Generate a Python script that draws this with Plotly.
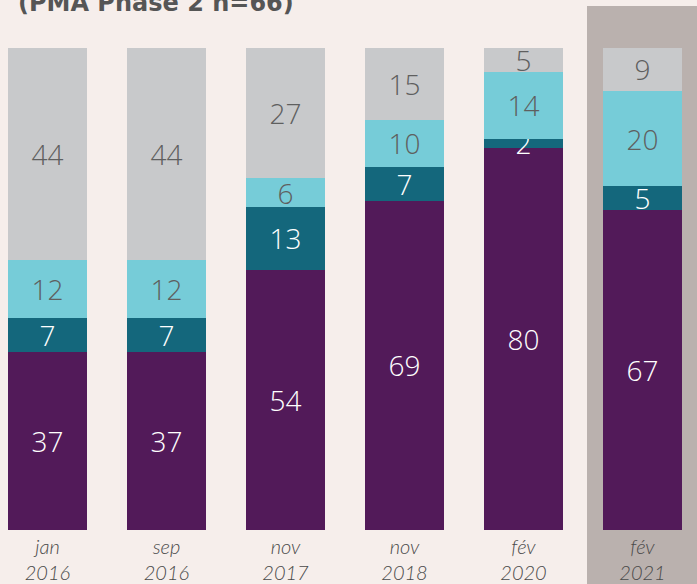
import plotly.graph_objects as go

periods = ["jan<br>2016", "sep<br>2016", "nov<br>2017", "nov<br>2018", "fév<br>2020", "fév<br>2021"]
seg_purple = [37, 37, 54, 69, 80, 67]
seg_teal = [7, 7, 13, 7, 2, 5]
seg_lightblue = [12, 12, 6, 10, 14, 20]
seg_grey = [44, 44, 27, 15, 5, 9]
title_text = "(PMA Phase 2 n=66)"

W, H = 697, 584
ML, MR, MT, MB = 0, 0, 48, 54
step = 119.0
c0 = 47.5
xr = [(0 - c0) / step, (W - c0) / step]
xpos = list(range(len(periods)))
plot_h = H - MT - MB

series = [
    ("A", seg_purple, "#521a59", "white"),
    ("B", seg_teal, "#14677c", "white"),
    ("C", seg_lightblue, "#76ccd8", "#5f5f5f"),
    ("D", seg_grey, "#c8c9cb", "#5f5f5f"),
]

fig = go.Figure()
for name, vals, col, tcol in series:
    fig.add_trace(go.Bar(
        x=xpos, y=vals, name=name, width=79 / step,
        marker=dict(color=col, line=dict(width=0)),
        text=[str(v) for v in vals], textposition="inside",
        insidetextanchor="middle", textangle=0, constraintext="none",
        textfont=dict(family="Open Sans", size=28, color=tcol, weight=300),
        hoverinfo="skip",
    ))

# shaded last column
fig.add_shape(type="rect", xref="x", yref="paper",
              x0=(587 - c0) / step, x1=xr[1] + 0.1,
              y0=(H - MB - H) / plot_h - 0.05, y1=(H - MB - 6) / plot_h,
              fillcolor="#bab1ae", line=dict(width=0), layer="below")

fig.add_annotation(xref="paper", yref="paper", x=16 / W, y=(H - MB - 19) / plot_h,
                   xanchor="left", yanchor="bottom", showarrow=False,
                   text="<b>" + title_text + "</b>",
                   font=dict(family="DejaVu Sans", size=24, color="#555555"))

fig.update_layout(
    width=W, height=H, barmode="stack", barnorm="percent",
    margin=dict(l=ML, r=MR, t=MT, b=MB),
    paper_bgcolor="#f6eeeb", plot_bgcolor="rgba(0,0,0,0)",
    showlegend=False,
    uniformtext=dict(mode="show", minsize=28),
    xaxis=dict(range=xr, tickvals=xpos, ticktext=periods, showgrid=False,
               zeroline=False, showline=False, ticks="", ticklen=0,
               ticklabelstandoff=3,
               tickfont=dict(family="Lato", size=20, color="#4a4a4a",
                             style="italic", weight=300)),
    yaxis=dict(range=[0, 100], visible=False, showgrid=False, zeroline=False),
)

fig.write_html("out.html", config={"displayModeBar": False},
               post_script="document.body.style.margin='0';document.body.style.padding='0';")
